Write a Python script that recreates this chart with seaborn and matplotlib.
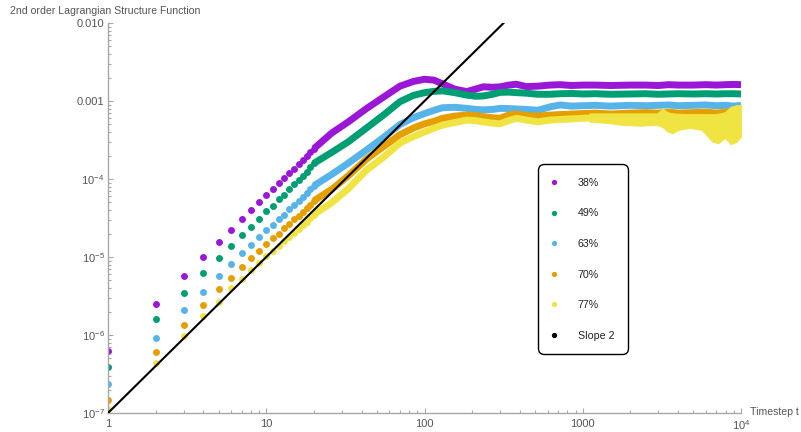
import numpy as np
import pandas as pd
import matplotlib
matplotlib.use('Agg')
import matplotlib.pyplot as plt
import seaborn as sns
from matplotlib.lines import Line2D
from matplotlib.ticker import FixedLocator, FixedFormatter, LogLocator, NullFormatter

# ---------------- data ----------------
series = ['38%', '49%', '63%', '70%', '77%']
colors = ['#9A17D7', '#009E73', '#56B4E9', '#E69F00', '#F0E442']

t_dots = list(range(1, 21))
purple_dots = [6.2e-7, 2.5e-6, 5.7e-6, 1.0e-5, 1.57e-5, 2.22e-5, 3.07e-5, 3.98e-5, 5.0e-5, 6.2e-5,
               7.4e-5, 8.8e-5, 1.02e-4, 1.18e-4, 1.35e-4, 1.55e-4, 1.75e-4, 1.97e-4, 2.2e-4, 2.45e-4]
green_dots = [3.9e-7, 1.59e-6, 3.5e-6, 6.3e-6, 9.8e-6, 1.38e-5, 1.91e-5, 2.45e-5, 3.07e-5, 3.89e-5,
              4.5e-5, 5.5e-5, 6.3e-5, 7.4e-5, 8.6e-5, 9.7e-5, 1.1e-4, 1.23e-4, 1.41e-4, 1.59e-4]
blue_dots = [2.35e-7, 9.2e-7, 2.1e-6, 3.6e-6, 5.7e-6, 8.1e-6, 1.11e-5, 1.43e-5, 1.78e-5, 2.22e-5,
             2.57e-5, 3.04e-5, 3.5e-5, 4.1e-5, 4.6e-5, 5.25e-5, 5.9e-5, 6.6e-5, 7.4e-5, 8.2e-5]
orange_dots = [1.47e-7, 6.0e-7, 1.34e-6, 2.4e-6, 3.85e-6, 5.4e-6, 7.4e-6, 9.6e-6, 1.19e-5, 1.46e-5,
               1.74e-5, 2.0e-5, 2.33e-5, 2.63e-5, 3.04e-5, 3.4e-5, 3.8e-5, 4.3e-5, 4.7e-5, 5.25e-5]
yellow_dots = [1.12e-7, 4.4e-7, 9.7e-7, 1.75e-6, 2.63e-6, 3.97e-6, 5.3e-6, 6.8e-6, 8.3e-6, 1.03e-5,
               1.2e-5, 1.38e-5, 1.6e-5, 1.82e-5, 2.04e-5, 2.29e-5, 2.57e-5, 2.82e-5, 3.16e-5, 3.5e-5]

t_band = [20, 26, 33, 43, 55, 70, 85, 100, 115, 130, 155, 185, 210, 235, 270, 300, 340, 380,
          440, 520, 620, 720, 850, 1000, 1200, 1500, 2000, 2500, 3000, 3500, 4000, 5000,
          6000, 7000, 8000, 9000, 10000]
purple_band = [2.45e-4, 3.9e-4, 5.4e-4, 8.0e-4, 1.12e-3, 1.55e-3, 1.78e-3, 1.9e-3, 1.85e-3, 1.66e-3,
               1.42e-3, 1.32e-3, 1.42e-3, 1.52e-3, 1.5e-3, 1.52e-3, 1.6e-3, 1.64e-3,
               1.53e-3, 1.55e-3, 1.6e-3, 1.62e-3, 1.58e-3, 1.6e-3, 1.6e-3, 1.58e-3, 1.6e-3,
               1.6e-3, 1.58e-3, 1.62e-3, 1.6e-3, 1.6e-3, 1.62e-3, 1.6e-3, 1.62e-3, 1.63e-3, 1.62e-3]
green_band = [1.59e-4, 2.2e-4, 3.0e-4, 4.5e-4, 6.6e-4, 9.8e-4, 1.18e-3, 1.28e-3, 1.33e-3, 1.35e-3,
              1.28e-3, 1.19e-3, 1.15e-3, 1.16e-3, 1.22e-3, 1.29e-3, 1.3e-3, 1.28e-3,
              1.26e-3, 1.22e-3, 1.22e-3, 1.24e-3, 1.25e-3, 1.23e-3, 1.24e-3, 1.22e-3, 1.23e-3,
              1.24e-3, 1.22e-3, 1.23e-3, 1.24e-3, 1.23e-3, 1.24e-3, 1.23e-3, 1.24e-3, 1.24e-3, 1.23e-3]
blue_band = [8.2e-5, 1.15e-4, 1.6e-4, 2.35e-4, 3.4e-4, 5.0e-4, 6.1e-4, 6.9e-4, 7.6e-4, 8.2e-4,
             8.3e-4, 8.05e-4, 7.8e-4, 7.7e-4, 7.8e-4, 8.05e-4, 8.0e-4, 7.9e-4,
             7.8e-4, 7.6e-4, 8.4e-4, 8.9e-4, 8.6e-4, 8.7e-4, 8.8e-4, 8.6e-4, 8.8e-4,
             8.7e-4, 8.8e-4, 8.9e-4, 8.7e-4, 8.8e-4, 8.9e-4, 8.7e-4, 8.8e-4, 8.6e-4, 8.8e-4]
orange_band = [5.25e-5, 7.4e-5, 1.1e-4, 1.8e-4, 2.6e-4, 3.7e-4, 4.5e-4, 5.1e-4, 5.5e-4, 6.0e-4,
               6.4e-4, 6.6e-4, 6.5e-4, 6.3e-4, 6.1e-4, 6.0e-4, 6.6e-4, 6.8e-4,
               6.5e-4, 6.4e-4, 6.6e-4, 6.7e-4, 6.8e-4, 6.9e-4, 7.0e-4, 6.8e-4, 7.0e-4,
               7.1e-4, 7.0e-4, 7.2e-4, 7.0e-4, 7.1e-4, 7.2e-4, 7.0e-4, 7.2e-4, 7.3e-4, 7.2e-4]
yellow_band = [3.5e-5, 5.0e-5, 7.5e-5, 1.3e-4, 1.9e-4, 2.9e-4, 3.5e-4, 4.0e-4, 4.5e-4, 4.9e-4,
               5.3e-4, 5.7e-4, 5.6e-4, 5.4e-4, 5.2e-4, 5.1e-4, 5.6e-4, 6.0e-4,
               5.7e-4, 5.4e-4, 5.7e-4, 5.8e-4, 5.9e-4, 6.0e-4, 6.1e-4, 5.8e-4, 6.0e-4,
               6.1e-4, 5.8e-4, 5.2e-4, 5.8e-4, 5.6e-4, 5.7e-4, 4.8e-4, 5.0e-4, 5.2e-4, 5.2e-4]

# spread (lower / upper edge) of the noisy yellow tail
t_noise = [1100, 1500, 1800, 2300, 2950, 3200, 3440, 3700, 4000, 4750, 5650, 6600, 7200,
           7900, 8600, 9400, 10000]
yellow_lo = [5.43e-4, 5.18e-4, 4.92e-4, 4.82e-4, 4.92e-4, 4.6e-4, 4.04e-4, 3.85e-4, 4.25e-4,
             4.51e-4, 4.25e-4, 3.0e-4, 2.87e-4, 3.36e-4, 2.79e-4, 3.0e-4, 3.5e-4]
yellow_hi = [6.95e-4, 6.95e-4, 6.95e-4, 6.95e-4, 6.95e-4, 8.05e-4, 7.2e-4, 6.95e-4, 6.9e-4,
             6.8e-4, 6.8e-4, 6.8e-4, 6.9e-4, 7.2e-4, 8.45e-4, 8.9e-4, 8.9e-4]

slope_t = [1, 10000]
slope_y = [1e-7 * t ** 2 for t in slope_t]

x_ticks = [1, 10, 100, 1000, 10000]
x_labels = ['1', '10', '100', '1000', '$10^4$']
y_ticks = [1e-7, 1e-6, 1e-5, 1e-4, 1e-3, 1e-2]
y_labels = ['$10^{-7}$', '$10^{-6}$', '$10^{-5}$', '$10^{-4}$', '0.001', '0.010']

dots_list = [purple_dots, green_dots, blue_dots, orange_dots, yellow_dots]
band_list = [purple_band, green_band, blue_band, orange_band, yellow_band]

# ---------------- style ----------------
sns.set_style('ticks')
plt.rcParams['font.family'] = ['Liberation Sans', 'DejaVu Sans']
plt.rcParams['mathtext.fontset'] = 'custom'
plt.rcParams['mathtext.rm'] = 'Liberation Sans'
plt.rcParams['mathtext.it'] = 'Liberation Sans:italic'
plt.rcParams['mathtext.default'] = 'regular'

axis_gray = '#A8A8A8'
text_gray = '#555555'

fig = plt.figure(figsize=(8.01, 4.32), dpi=100)
ax = fig.add_axes([108 / 801, 19 / 432, 633 / 801, 390 / 432])

for i, name in enumerate(series):
    df_band = pd.DataFrame({'t': t_band, 'v': band_list[i]})
    sns.lineplot(data=df_band, x='t', y='v', color=colors[i], linewidth=5.0,
                 estimator=None, sort=False, ax=ax, zorder=2 + i * 0.1,
                 solid_capstyle='butt', solid_joinstyle='round')
    if name == '77%':
        ax.fill_between(t_noise, yellow_lo, yellow_hi, color=colors[i], lw=0.6,
                        edgecolor=colors[i], zorder=2 + i * 0.1)
    df_dots = pd.DataFrame({'t': t_dots, 'v': dots_list[i]})
    sns.scatterplot(data=df_dots, x='t', y='v', color=colors[i], s=25, linewidth=0,
                    ax=ax, zorder=2.05 + i * 0.1)

sns.lineplot(x=slope_t, y=slope_y, color='black', linewidth=1.5, ax=ax, zorder=5)

ax.set_xscale('log')
ax.set_yscale('log')
ax.set_xlim(1, 10000)
ax.set_ylim(1e-7, 1e-2)
ax.set_xlabel('')
ax.set_ylabel('')

ax.xaxis.set_major_locator(FixedLocator(x_ticks))
ax.xaxis.set_major_formatter(FixedFormatter(x_labels))
ax.xaxis.set_minor_locator(LogLocator(base=10, subs=np.arange(2, 10), numticks=20))
ax.xaxis.set_minor_formatter(NullFormatter())
ax.yaxis.set_major_locator(FixedLocator(y_ticks))
ax.yaxis.set_major_formatter(FixedFormatter(y_labels))
ax.yaxis.set_minor_locator(LogLocator(base=10, subs=np.arange(2, 10), numticks=20))
ax.yaxis.set_minor_formatter(NullFormatter())

for s in ['top', 'right']:
    ax.spines[s].set_visible(False)
for s in ['left', 'bottom']:
    ax.spines[s].set_color(axis_gray)
    ax.spines[s].set_linewidth(1.0)

ax.tick_params(which='both', direction='in', color=axis_gray, labelcolor=text_gray,
               labelsize=8, width=0.8)
ax.tick_params(which='major', length=3.6)
ax.tick_params(which='minor', length=2.0)
ax.tick_params(axis='y', which='major', pad=2.5)
ax.tick_params(axis='x', which='major', pad=4)

fig.text(10 / 801, 1 - 11 / 432, '2nd order Lagrangian Structure Function',
         ha='left', va='center', fontsize=7.6, color=text_gray)
fig.text(750 / 801, 1 - 412 / 432, 'Timestep t', ha='left', va='center',
         fontsize=7.6, color=text_gray)

handles = [Line2D([], [], marker='o', ls='', color=c, markersize=3.8, markeredgewidth=0)
           for c in colors]
handles.append(Line2D([], [], marker='o', ls='', color='black', markersize=3.8, markeredgewidth=0))
labels = series + ['Slope 2']
leg = ax.legend(handles, labels, loc='upper left',
                bbox_to_anchor=(538 / 801, 1 - 164 / 432), bbox_transform=fig.transFigure,
                borderaxespad=0, fontsize=7.7, frameon=True, fancybox=True,
                handlelength=0.4, handletextpad=2.03, labelspacing=1.92, borderpad=1.3)
frame = leg.get_frame()
frame.set_edgecolor('black')
frame.set_linewidth(1.0)
frame.set_facecolor('white')
frame.set_alpha(1.0)
frame.set_boxstyle('round,pad=0,rounding_size=0.6')
for txt in leg.get_texts():
    txt.set_color('#222222')

fig.savefig('out.png', dpi=100)
